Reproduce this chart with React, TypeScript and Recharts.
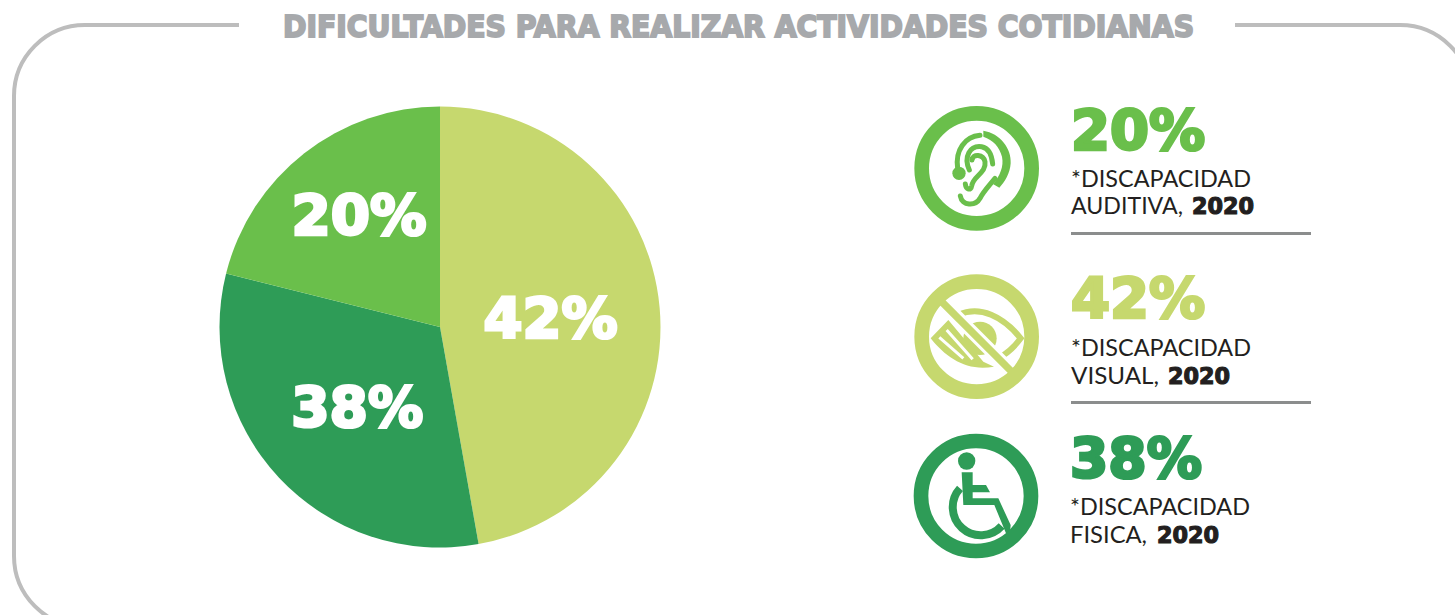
import {Cell, Pie, PieChart} from 'recharts'

const TITLE = 'DIFICULTADES PARA REALIZAR ACTIVIDADES COTIDIANAS'

// the printed percentages do not match the drawn slice sizes, so both are kept
const categories = ['Discapacidad visual', 'Discapacidad fisica', 'Discapacidad auditiva']
const sliceShares = [47.2, 31.7, 21.1]
const printedLabels = ['42%', '38%', '20%']
const COLORS = ['#c6d86e', '#2e9c57', '#6abf4b']

const legendTypes = ['AUDITIVA,', 'VISUAL,', 'FISICA,']
const legendYear = '2020'
const legendCaption = '*DISCAPACIDAD'

const tableData = categories.map((name, i) => ({name, value: sliceShares[i]}))

const HEAVY = '"DejaVu Sans", sans-serif'
const BODY = 'Lato, sans-serif'
const INK = '#231f20'

const LABEL_RADIUS = [111, 116, 138]
const LABEL_WIDTH = [134, 132, 135]
const LABEL_DX = [0, 2, 4]
const LABEL_DY = [0, 0, -4]

const renderSliceLabel = (props: any) => {
	const {cx, cy, midAngle, index} = props
	const rad = (-midAngle * Math.PI) / 180
	const r = LABEL_RADIUS[index]
	const x = cx + r * Math.cos(rad) + LABEL_DX[index]
	const y = cy + r * Math.sin(rad) + LABEL_DY[index]
	return (
		<text
			key={index}
			x={x}
			y={y + 20}
			textAnchor='middle'
			textLength={LABEL_WIDTH[index]}
			lengthAdjust='spacingAndGlyphs'
			fill='#fff'
			stroke='#fff'
			strokeWidth={3}
			fontFamily={HEAVY}
			fontWeight={700}
			fontSize={56}
		>
			{printedLabels[index]}
		</text>
	)
}

const Ear = ({color}: {color: string}) => (
	<g fill='none' stroke={color} strokeWidth={15} strokeLinecap='round'>
		<path d='M250 122 C300 130 335 175 332 220 C330 250 315 275 298 293 L280 283 C300 255 312 230 306 200 C298 170 280 150 250 140 Z' fill={color} stroke='none' />
		<path d='M240 136 C195 140 165 180 173 235' />
		<circle cx={177} cy={250} r={20} fill={color} stroke='none' />
		<path d='M208 240 C190 200 210 165 245 170 C262 173 275 190 278 222' />
		<path d='M216 210 C218 190 250 192 255 215 C260 250 218 258 215 288 C213 302 198 300 196 282' />
		<path d='M181 318 C186 348 226 350 240 325 C250 305 265 290 285 265' />
	</g>
)

const Eye = ({color}: {color: string}) => (
	<g>
		<path d='M175 165 C240 135 310 170 362 235 C340 265 315 285 290 297' fill='none' stroke={color} strokeWidth={18} />
		<circle cx={240} cy={235} r={50} fill={color} />
		<path d='M92 235 L145 180 L250 305 L282 320 C200 335 140 295 92 235 Z' fill={color} />
		<path d='M118 232 L190 295 M140 210 L218 298' stroke='#fff' strokeWidth={9} />
		<path d='M115 115 L345 345' stroke='#fff' strokeWidth={40} />
		<path d='M115 115 L345 345' stroke={color} strokeWidth={22} />
	</g>
)

const Wheelchair = ({color}: {color: string}) => (
	<g fill={color}>
		<circle cx={200} cy={123} r={26} />
		<path d='M185 157 L218 157 L218 195 L258 195 L270 217 L218 217 L218 235 L295 235 L332 315 L330 340 L318 340 L283 255 L190 255 Z' />
		<path d='M180 205 A72 72 0 1 0 305 318' fill='none' stroke={color} strokeWidth={24} />
	</g>
)

const ICONS = [Ear, Eye, Wheelchair]
const ROW_COLORS = [COLORS[2], COLORS[0], COLORS[1]]
const ROW_LABELS = [printedLabels[2], printedLabels[0], printedLabels[1]]

// per row layout
const ROWS = [
	{iconX: 900, iconY: 90, ringX: 230, ringY: 235, x: 1071, w: 134, big: 149, l1: 187, l2: 214, rule: 233.5, typeW: 112, yearX: 1192},
	{iconX: 900, iconY: 260, ringX: 230, ringY: 230, x: 1071, w: 134, big: 317, l1: 356, l2: 384, rule: 402.5, typeW: 88, yearX: 1168},
	{iconX: 900, iconY: 420, ringX: 228, ringY: 228, x: 1070, w: 132, big: 477, l1: 515, l2: 543, rule: 0, typeW: 77, yearX: 1157},
]

const App = () => {
	return (
		<div style={{position: 'absolute', left: 0, top: 0, width: 1455, height: 615, overflow: 'hidden', background: '#fff'}}>
			<svg width={1455} height={615} style={{position: 'absolute', left: 0, top: 0}}>
				{/* 테두리 */}
				<path d='M239 25 L85 25 A71 71 0 0 0 14 96 L14 556 A71 71 0 0 0 85 627 L1400 627 M1235 25 L1400 25 A71 71 0 0 1 1471 96' fill='none' stroke='#bdbdbd' strokeWidth={4} />
				<text x={283} y={37} textLength={911} lengthAdjust='spacingAndGlyphs' fill='#a7a9ac' stroke='#a7a9ac' strokeWidth={2} fontFamily={HEAVY} fontWeight={700} fontSize={31}>
					{TITLE}
				</text>

				{ROWS.map((row, i) => {
					const Icon = ICONS[i]
					const color = ROW_COLORS[i]
					return (
						<g key={i}>
							<g transform={`translate(${row.iconX} ${row.iconY}) scale(${1 / 3})`}>
								<Icon color={color} />
								<circle cx={row.ringX} cy={row.ringY} r={165} fill='none' stroke={color} strokeWidth={44} />
							</g>
							<text x={row.x} y={row.big} textLength={row.w} lengthAdjust='spacingAndGlyphs' fill={color} stroke={color} strokeWidth={3} fontFamily={HEAVY} fontWeight={700} fontSize={56}>
								{ROW_LABELS[i]}
							</text>
							<text x={row.x} y={row.l1} textLength={180} lengthAdjust='spacingAndGlyphs' fill={INK} fontFamily={BODY} fontSize={23}>
								{legendCaption}
							</text>
							<text x={row.x} y={row.l2} textLength={row.typeW} lengthAdjust='spacingAndGlyphs' fill={INK} fontFamily={BODY} fontSize={23}>
								{legendTypes[i]}
							</text>
							<text x={row.yearX} y={row.l2} textLength={62} lengthAdjust='spacingAndGlyphs' fill={INK} stroke={INK} strokeWidth={1.2} fontFamily={HEAVY} fontWeight={700} fontSize={23}>
								{legendYear}
							</text>
							{row.rule > 0 && <rect x={1071} y={row.rule - 1.5} width={240} height={3} fill='#8b8d8d' />}
						</g>
					)
				})}
			</svg>

			{/* 원형 차트 */}
			<div style={{position: 'absolute', left: 0, top: 0}}>
				<PieChart width={1455} height={615} margin={{top: 0, right: 0, bottom: 0, left: 0}}>
					<Pie
						data={tableData}
						dataKey='value'
						nameKey='name'
						cx={440}
						cy={327}
						outerRadius={220.5}
						startAngle={90}
						endAngle={-270}
						stroke='none'
						label={renderSliceLabel}
						labelLine={false}
						isAnimationActive={false}
					>
						{tableData.map((_, index) => (
							<Cell key={`cell-${index}`} fill={COLORS[index]} />
						))}
					</Pie>
				</PieChart>
			</div>
		</div>
	)
}

export default App
